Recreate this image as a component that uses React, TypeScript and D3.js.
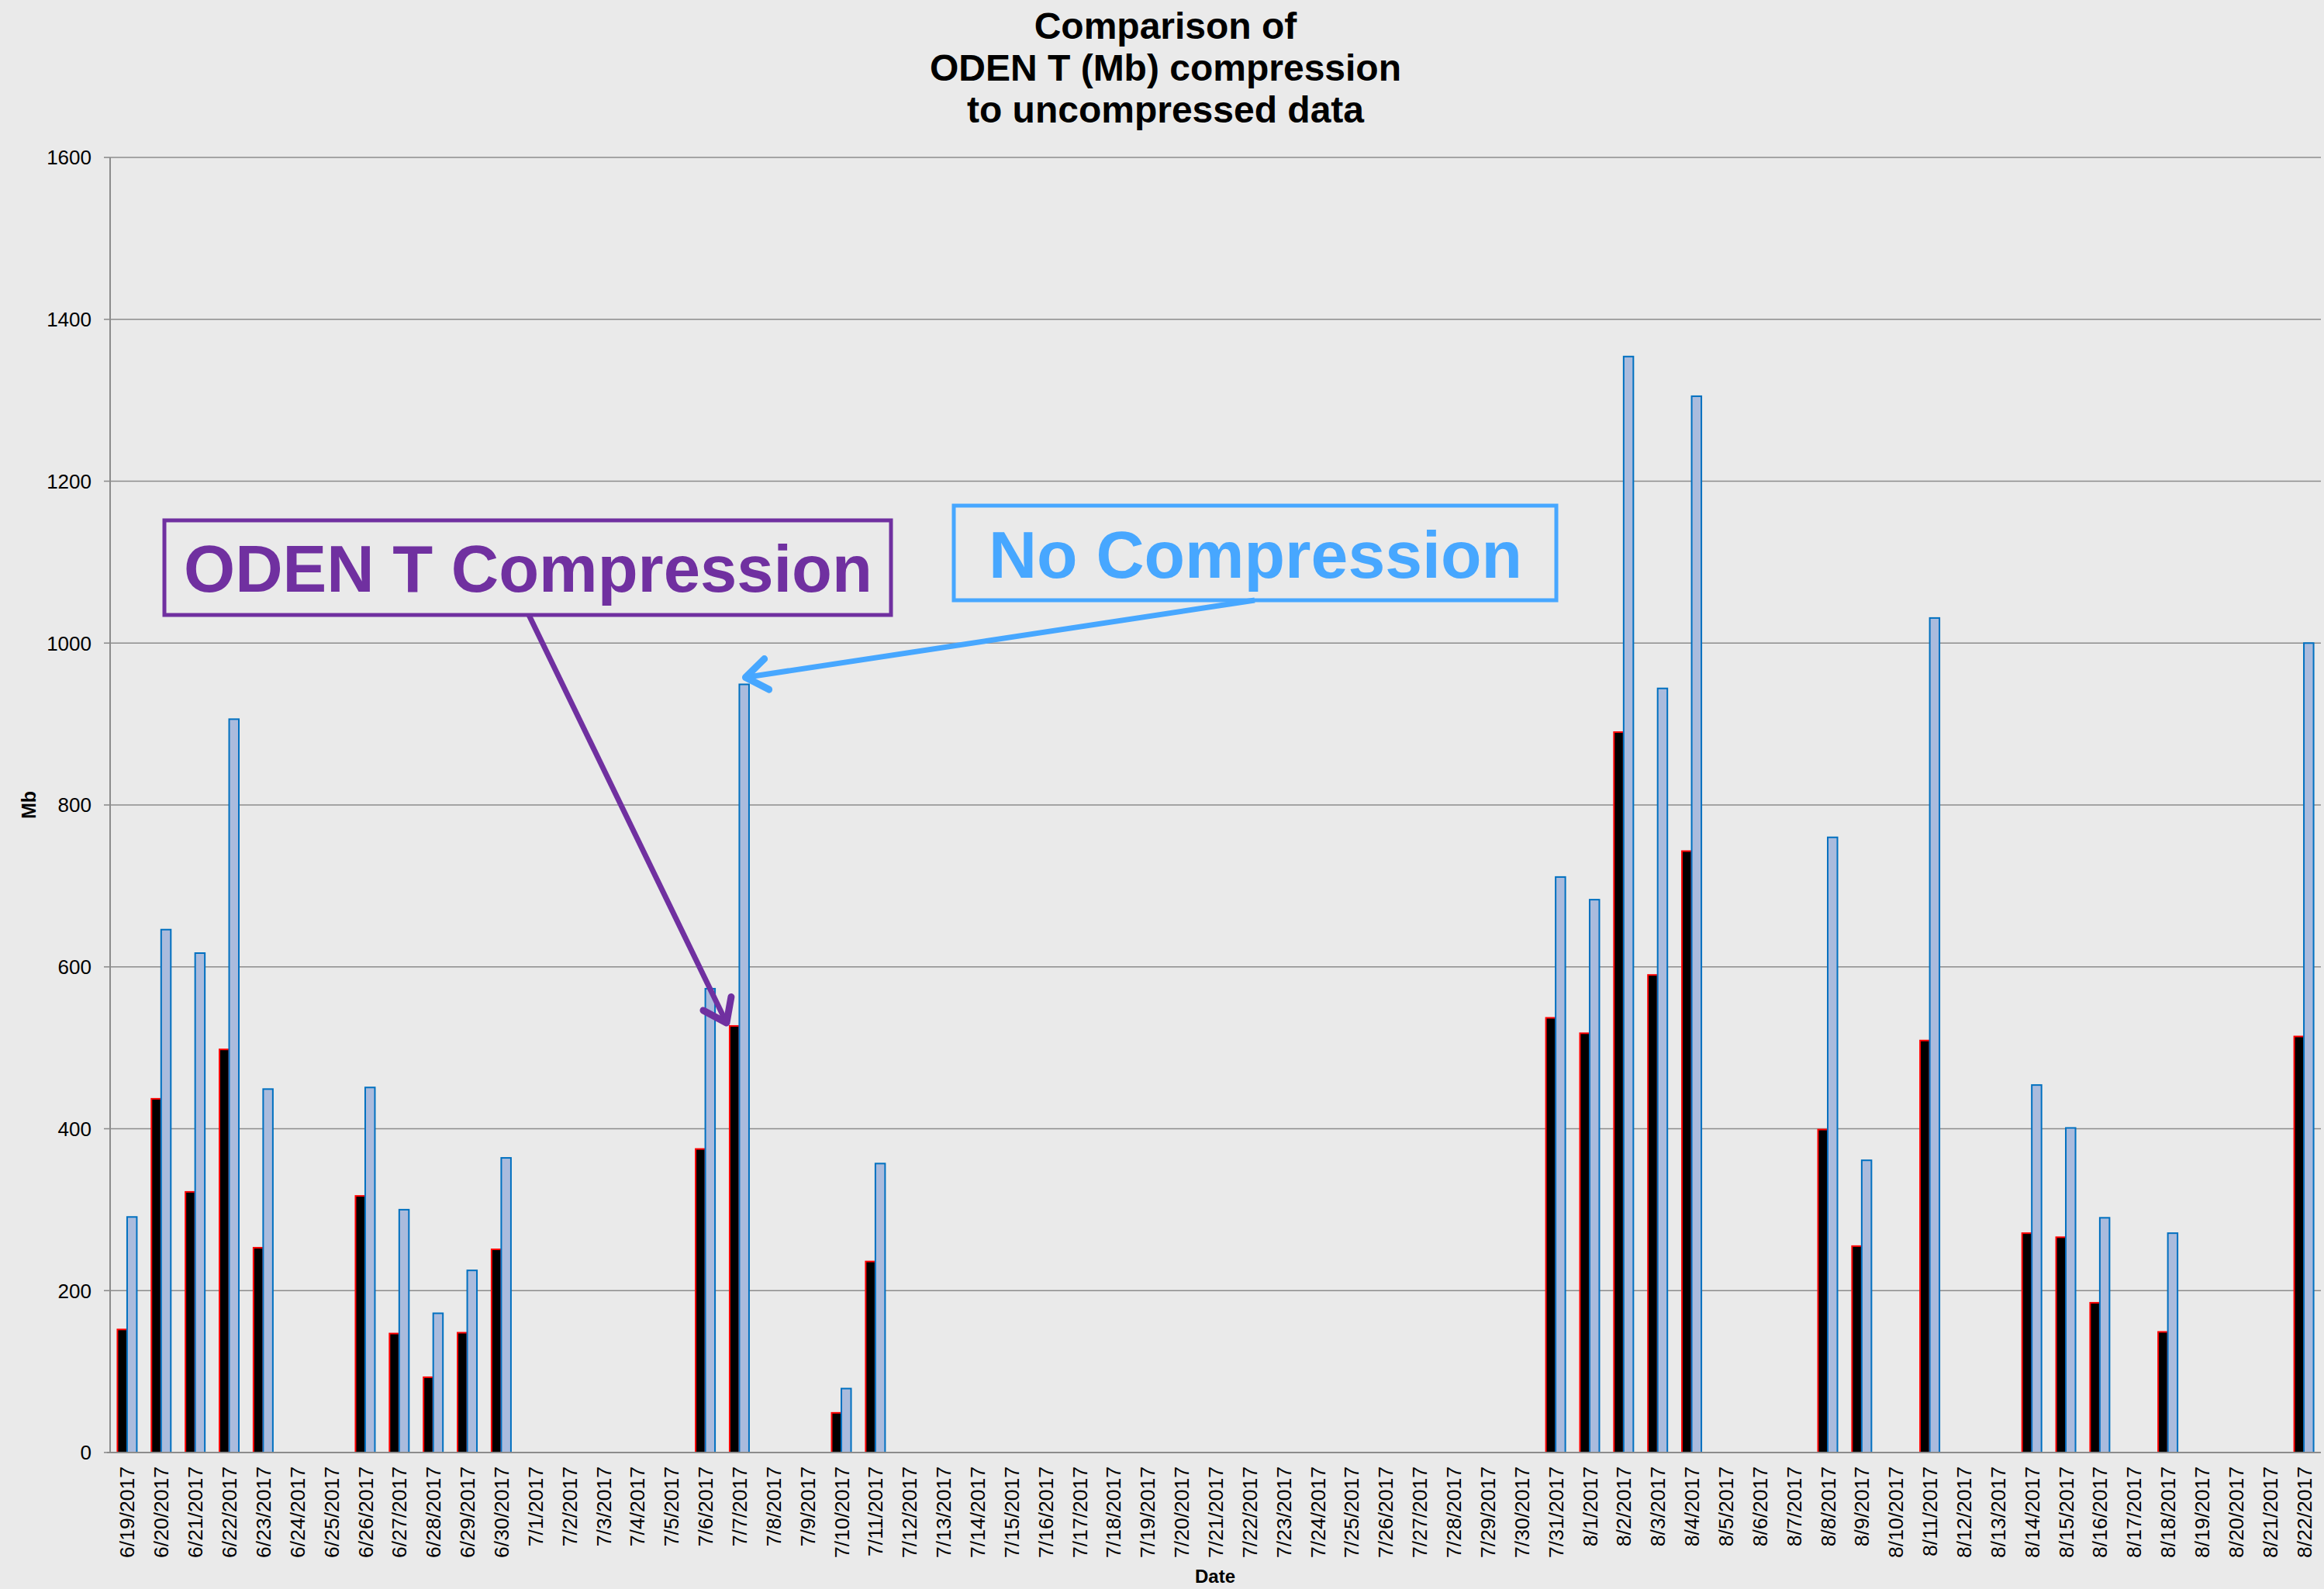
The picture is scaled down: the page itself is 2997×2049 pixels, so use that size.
import React from 'react';
import * as d3 from 'd3';

// categories (one bar pair per day)
const dates = [
  '6/19/2017', '6/20/2017', '6/21/2017', '6/22/2017', '6/23/2017', '6/24/2017', '6/25/2017', '6/26/2017',
  '6/27/2017', '6/28/2017', '6/29/2017', '6/30/2017', '7/1/2017', '7/2/2017', '7/3/2017', '7/4/2017',
  '7/5/2017', '7/6/2017', '7/7/2017', '7/8/2017', '7/9/2017', '7/10/2017', '7/11/2017', '7/12/2017',
  '7/13/2017', '7/14/2017', '7/15/2017', '7/16/2017', '7/17/2017', '7/18/2017', '7/19/2017', '7/20/2017',
  '7/21/2017', '7/22/2017', '7/23/2017', '7/24/2017', '7/25/2017', '7/26/2017', '7/27/2017', '7/28/2017',
  '7/29/2017', '7/30/2017', '7/31/2017', '8/1/2017', '8/2/2017', '8/3/2017', '8/4/2017', '8/5/2017',
  '8/6/2017', '8/7/2017', '8/8/2017', '8/9/2017', '8/10/2017', '8/11/2017', '8/12/2017', '8/13/2017',
  '8/14/2017', '8/15/2017', '8/16/2017', '8/17/2017', '8/18/2017', '8/19/2017', '8/20/2017', '8/21/2017',
  '8/22/2017',
];

// ODEN T compressed size (Mb), null = no data
const compressed: (number | null)[] = [
  152, 437, 322, 498, 253, null, null, 317, 147, 93, 148, 251,
  null, null, null, null, null, 375, 527, null, null, 49, 236,
  null, null, null, null, null, null, null, null, null, null,
  null, null, null, null, null, null, null, null, null, 537,
  518, 890, 590, 743, null, null, null, 399, 255, null, 509,
  null, null, 271, 266, 185, null, 149, null, null, null, 514,
];

// uncompressed size (Mb)
const uncompressed: (number | null)[] = [
  291, 646, 617, 906, 449, null, null, 451, 300, 172, 225, 364,
  null, null, null, null, null, 573, 949, null, null, 79, 357,
  null, null, null, null, null, null, null, null, null, null,
  null, null, null, null, null, null, null, null, null, 711,
  683, 1354, 944, 1305, null, null, null, 760, 361, null, 1031,
  null, null, 454, 401, 290, null, 271, null, null, null, 1000,
];

const yTicks = [0, 200, 400, 600, 800, 1000, 1200, 1400, 1600];
const titleLines = ['Comparison of', 'ODEN T (Mb) compression', 'to uncompressed data'];

const W = 2997;
const H = 2049;
const left = 142;
const right = 2993;
const top = 203;
const bottom = 1873;
const FONT = '"Liberation Sans", Arial, Helvetica, sans-serif';

const PURPLE = '#7030A0';
const LIGHTBLUE = '#47A7FF';

// open V arrow head at (x2,y2) pointing from (x1,y1)
function arrowHead(x1: number, y1: number, x2: number, y2: number, len: number) {
  const a = Math.atan2(y2 - y1, x2 - x1);
  const s = Math.PI / 5;
  const p1 = [x2 - len * Math.cos(a - s), y2 - len * Math.sin(a - s)];
  const p2 = [x2 - len * Math.cos(a + s), y2 - len * Math.sin(a + s)];
  return `M${p1[0]},${p1[1]}L${x2},${y2}L${p2[0]},${p2[1]}`;
}

export default function App() {
  const x = d3.scaleBand<string>().domain(dates).range([left, right]).padding(0);
  const step = x.bandwidth();
  const groupW = step * 0.57;
  const x1 = d3
    .scaleBand<string>()
    .domain(['compressed', 'uncompressed'])
    .range([(step - groupW) / 2, (step + groupW) / 2]);
  const y = d3.scaleLinear().domain([0, 1600]).range([bottom, top]);

  // annotation arrows point at the 7/7 bars
  const target = '7/7/2017';
  const tipP = { x: x(target)! + x1('compressed')! - 4, y: y(527) - 4 };
  const startP = { x: 682, y: 793 };
  const tipB = { x: x(target)! + x1('uncompressed')! + 8, y: y(949) - 9 };
  const startB = { x: 1618, y: 774 };

  return (
    <svg
      width={W}
      height={H}
      style={{ position: 'absolute', left: 0, top: 0, background: '#EAEAEA' }}
      fontFamily={FONT}
    >
      <rect x={0} y={0} width={W} height={H} fill="#EAEAEA" />

      {/* title */}
      {titleLines.map((t, i) => (
        <text key={t} x={1503} y={50 + i * 54} textAnchor="middle" fontSize={48} fontWeight="bold" fill="#000">
          {t}
        </text>
      ))}

      {/* grid lines + y ticks */}
      {yTicks.map((v) => (
        <g key={v}>
          <line x1={left} x2={right} y1={y(v)} y2={y(v)} stroke="#8C8C8C" strokeWidth={1.6} />
          <line x1={134} x2={left} y1={y(v)} y2={y(v)} stroke="#8C8C8C" strokeWidth={1.6} />
          <text x={118} y={y(v)} dy="0.36em" textAnchor="end" fontSize={26} fill="#000">
            {v}
          </text>
        </g>
      ))}

      {/* bars */}
      {dates.map((d, i) => (
        <g key={d} transform={`translate(${x(d)},0)`}>
          {compressed[i] != null && (
            <rect
              x={x1('compressed')}
              y={y(compressed[i] as number)}
              width={x1.bandwidth()}
              height={bottom - y(compressed[i] as number)}
              fill="#000"
              stroke="#FF0000"
              strokeWidth={2}
            />
          )}
          {uncompressed[i] != null && (
            <rect
              x={x1('uncompressed')}
              y={y(uncompressed[i] as number)}
              width={x1.bandwidth()}
              height={bottom - y(uncompressed[i] as number)}
              fill="#AABBDD"
              stroke="#0070C0"
              strokeWidth={2}
            />
          )}
        </g>
      ))}

      {/* axes */}
      <line x1={left} x2={left} y1={top} y2={bottom} stroke="#8C8C8C" strokeWidth={2} />
      <line x1={138} x2={right} y1={bottom} y2={bottom} stroke="#8C8C8C" strokeWidth={2} />

      {/* x labels */}
      {dates.map((d) => (
        <text
          key={d}
          transform={`translate(${x(d)! + step / 2},1891) rotate(-90)`}
          dy="0.36em"
          textAnchor="end"
          fontSize={26.5}
          fill="#000"
        >
          {d}
        </text>
      ))}

      {/* axis titles */}
      <text x={1567} y={2041} textAnchor="middle" fontSize={24} fontWeight="bold" fill="#000">
        Date
      </text>
      <text transform="translate(46,1038) rotate(-90)" textAnchor="middle" fontSize={25} fontWeight="bold" fill="#000">
        Mb
      </text>

      {/* annotation: ODEN T Compression */}
      <path d={`M${startP.x},${startP.y}L${tipP.x},${tipP.y}`} stroke={PURPLE} strokeWidth={7} fill="none" />
      <path
        d={arrowHead(startP.x, startP.y, tipP.x, tipP.y, 34)}
        stroke={PURPLE}
        strokeWidth={9}
        fill="none"
        strokeLinecap="round"
        strokeLinejoin="round"
      />
      <rect x={212} y={671} width={937} height={122} fill="none" stroke={PURPLE} strokeWidth={5} />
      <text x={681} y={763} textAnchor="middle" fontSize={85} fontWeight="bold" fill={PURPLE}>
        ODEN T Compression
      </text>

      {/* annotation: No Compression */}
      <path d={`M${startB.x},${startB.y}L${tipB.x},${tipB.y}`} stroke={LIGHTBLUE} strokeWidth={7} fill="none" />
      <path
        d={arrowHead(startB.x, startB.y, tipB.x, tipB.y, 34)}
        stroke={LIGHTBLUE}
        strokeWidth={9}
        fill="none"
        strokeLinecap="round"
        strokeLinejoin="round"
      />
      <rect x={1230} y={652} width={777} height={122} fill="none" stroke={LIGHTBLUE} strokeWidth={5} />
      <text x={1619} y={745} textAnchor="middle" fontSize={86} fontWeight="bold" fill={LIGHTBLUE}>
        No Compression
      </text>
    </svg>
  );
}
